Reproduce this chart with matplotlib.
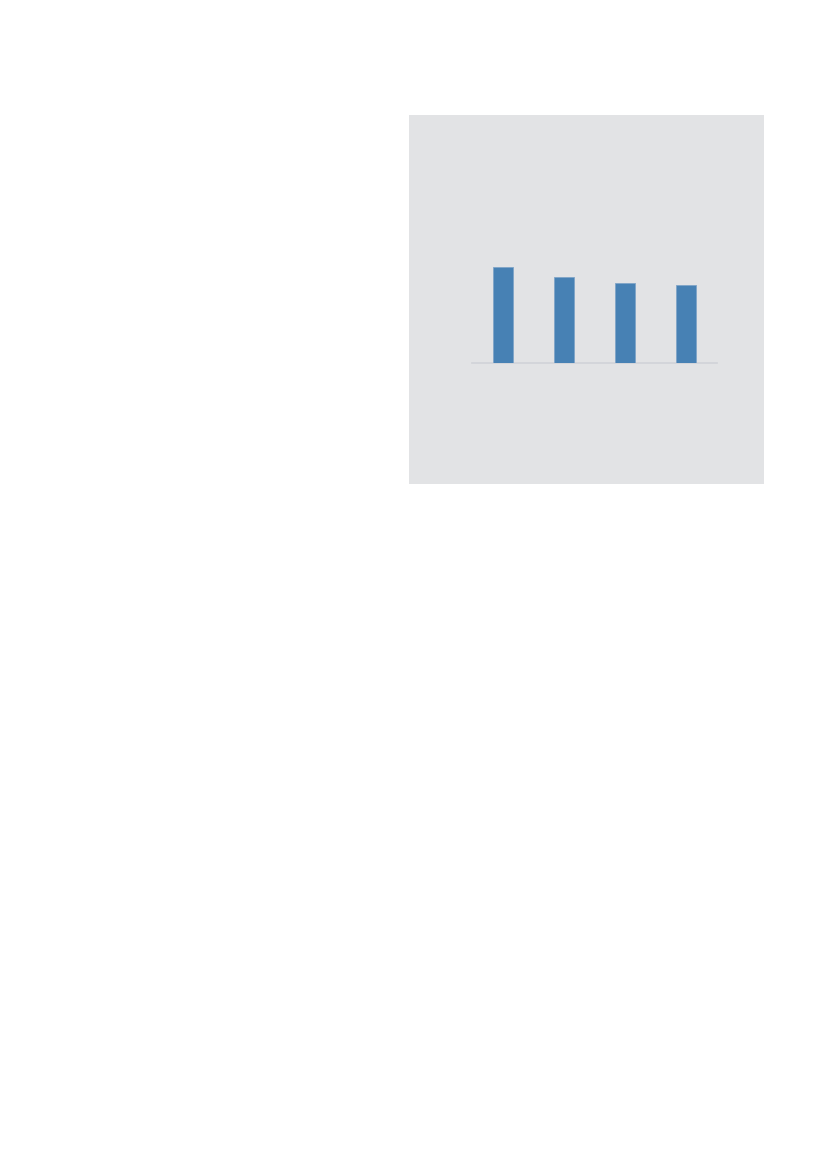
import matplotlib
matplotlib.use("Agg")
import matplotlib.pyplot as plt

categories = ["A", "B", "C", "D"]
values = [96.6, 86.3, 80.6, 78.0]

W, H = 827, 1169
fig = plt.figure(figsize=(W / 100, H / 100), dpi=100)
fig.patch.set_facecolor("white")

# grey panel
px0, px1, py0, py1 = 409, 764, 115, 484
bg = fig.add_axes([px0 / W, 1 - py1 / H, (px1 - px0) / W, (py1 - py0) / H], zorder=0)
bg.set_facecolor("#e2e3e5")
bg.set_xticks([])
bg.set_yticks([])
for s in bg.spines.values():
    s.set_visible(False)

ax = fig.add_axes([472 / W, 1 - 363.3 / H, 245 / W, 200 / H], zorder=1)
ax.set_facecolor("none")
x = list(range(len(categories)))
ax.axhline(0, color="#d0d3d8", linewidth=1.2, zorder=1, clip_on=False)
ax.bar(x, values, width=0.32, color="#4781b4", edgecolor="#7fa4c8",
       linewidth=0.6, zorder=2)
ax.set_xlim(-0.508, 3.508)
ax.set_ylim(0, 200)
ax.set_xticks([])
ax.set_yticks([])
for s in ax.spines.values():
    s.set_visible(False)

fig.savefig("out.png", dpi=100, facecolor="white")
